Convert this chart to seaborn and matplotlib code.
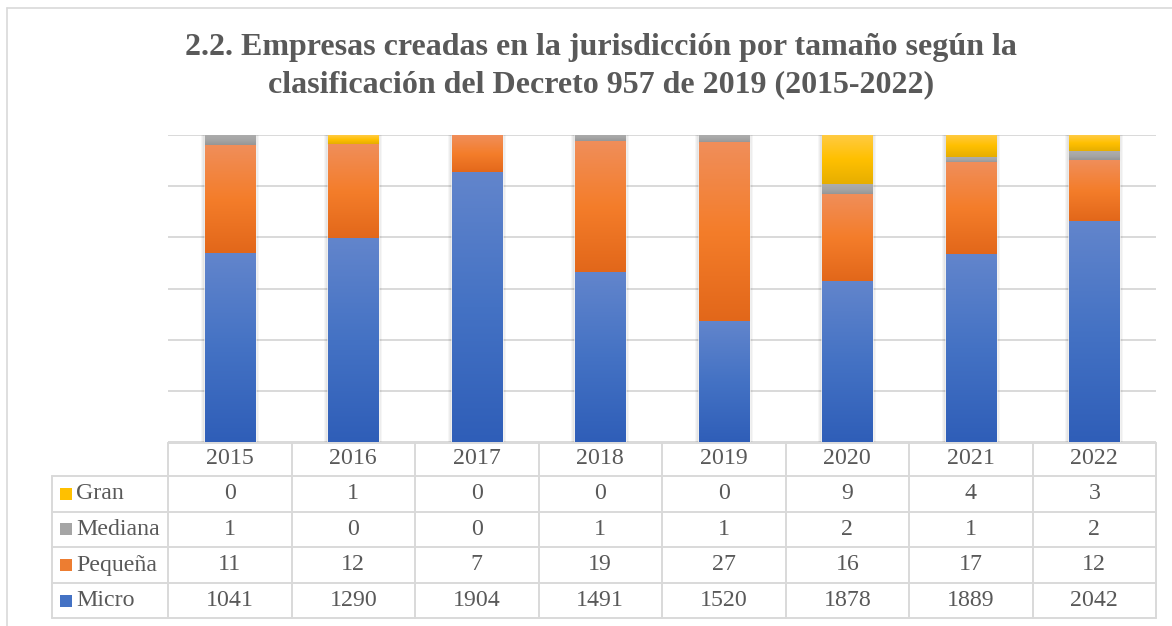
import numpy as np
import pandas as pd
import seaborn as sns
import matplotlib.pyplot as plt
from matplotlib.patches import Rectangle
from matplotlib.lines import Line2D
from matplotlib.colors import LinearSegmentedColormap

years = ["2015", "2016", "2017", "2018", "2019", "2020", "2021", "2022"]

# counts shown in the data table
gran = [0, 1, 0, 0, 0, 9, 4, 3]
mediana = [1, 0, 0, 1, 1, 2, 1, 2]
pequena = [11, 12, 7, 19, 27, 16, 17, 12]
micro = [1041, 1290, 1904, 1491, 1520, 1878, 1889, 2042]

# share of each bar as drawn in the chart
micro_share = [0.615, 0.662, 0.877, 0.553, 0.393, 0.524, 0.611, 0.719]
pequena_share = [0.349, 0.308, 0.123, 0.424, 0.582, 0.281, 0.298, 0.197]
mediana_share = [0.036, 0.0, 0.0, 0.025, 0.025, 0.034, 0.019, 0.032]
gran_share = [0.0, 0.029, 0.0, 0.0, 0.0, 0.161, 0.072, 0.052]

title_lines = ["2.2. Empresas creadas en la jurisdicción por tamaño según la",
               "clasificación del Decreto 957 de 2019 (2015-2022)"]

sns.set_theme(style="white")
plt.rcParams["font.family"] = ["Liberation Serif", "DejaVu Serif"]

W, H = 1172, 626
fig = plt.figure(figsize=(W / 100, H / 100), dpi=100)
text_col = "#595959"
grid_col = "#D9D9D9"

df = pd.DataFrame({"year": years})
df["c1"] = micro_share
df["c2"] = df["c1"] + np.array(pequena_share)
df["c3"] = df["c2"] + np.array(mediana_share)
df["c4"] = df["c3"] + np.array(gran_share)
df["c0"] = 0.0

# main bar axes (pixel layout)
x_left, x_right = 168, 1156
y_top, y_bot = 135, 442
ax = fig.add_axes([x_left / W, 1 - y_bot / H, (x_right - x_left) / W, (y_bot - y_top) / H])
layers = [
    ("c3", "c4", "#FFC000", ["#FFCB45", "#FFC000", "#E6AE00"]),
    ("c2", "c3", "#A5A5A5", ["#ADADAD", "#A5A5A5", "#939393"]),
    ("c1", "c2", "#ED7D31", ["#F08E5A", "#F47D2A", "#E2671A"]),
    ("c0", "c1", "#4472C4", ["#6285CC", "#4472C4", "#2F5EB8"]),
]
for lo, hi, col, _ in layers:
    sns.barplot(data=df, x="year", y=hi, color=col, saturation=1,
                width=0.405, ax=ax, zorder=2)

# soft shadow around each bar
px_x = 8 / (x_right - x_left)
px_y = 1 / (y_bot - y_top)
for patch in ax.containers[0]:
    x0, w, h = patch.get_x(), patch.get_width(), patch.get_height()
    for d in [1, 2, 3, 4]:
        ax.add_patch(Rectangle((x0 - d * px_x, 0), w + 2 * d * px_x, h + d * px_y,
                               color="#000000", alpha=0.035, lw=0, zorder=1.5))

grad = np.linspace(0, 1, 256).reshape(-1, 1)
for k, (lo, hi, col, stops) in enumerate(layers):
    cmap = LinearSegmentedColormap.from_list("g%d" % k, stops)
    for i, patch in enumerate(ax.containers[k]):
        y0, y1 = df[lo][i], df[hi][i]
        if y1 - y0 <= 0:
            continue
        x0 = patch.get_x()
        ax.imshow(grad, extent=(x0, x0 + patch.get_width(), y0, y1),
                  cmap=cmap, aspect="auto", zorder=3, interpolation="bilinear")

ax.set_xlim(-0.5, 7.5)
ax.set_ylim(0, 1)
ax.set_yticks(np.linspace(0, 1, 7))
ax.set_yticklabels([])
ax.set_xticks([])
ax.set_xlabel("")
ax.set_ylabel("")
ax.grid(axis="y", color=grid_col, lw=1.4)
ax.set_axisbelow(True)
for s in ax.spines.values():
    s.set_visible(False)

# data table
colw = (x_right - x_left) / 8
t_left = 52
left = -0.5 - (x_left - t_left) / colw
tx = fig.add_axes([t_left / W, 1 - 618 / H, (x_right - t_left) / W, (618 - 443) / H])
tx.set_xlim(left, 7.5)
tx.set_ylim(618, 443)
tx.axis("off")

row_lines = [476, 511.5, 547, 583, 618]
tx.plot([-0.5, 7.5], [443, 443], color=grid_col, lw=1.4, clip_on=False)
for y in row_lines:
    tx.plot([left, 7.5], [y, y], color=grid_col, lw=1.4, clip_on=False)
for k in range(9):
    tx.plot([-0.5 + k] * 2, [443, 618], color=grid_col, lw=1.4, clip_on=False)
tx.plot([left, left], [476, 618], color=grid_col, lw=1.4, clip_on=False)

fs = 17.2
for i, yr in enumerate(years):
    tx.text(i, 459, yr, ha="center", va="center", fontsize=fs, color=text_col)

rows = [("Gran", gran, "#FFC000"), ("Mediana", mediana, "#A5A5A5"),
        ("Pequeña", pequena, "#ED7D31"), ("Micro", micro, "#4472C4")]
for r, (name, vals, col) in enumerate(rows):
    yc = (row_lines[r] + row_lines[r + 1]) / 2
    tx.add_patch(Rectangle((left + 8 / colw, yc - 6), 12.5 / colw, 12,
                           color=col, clip_on=False, lw=0))
    tx.text(left + 24 / colw, yc, name, ha="left", va="center",
            fontsize=fs, color=text_col)
    for i, v in enumerate(vals):
        tx.text(i, yc, str(v), ha="center", va="center",
                fontsize=fs, color=text_col)

# chart border
fig.add_artist(Line2D([7 / W, 7 / W], [0, 1 - 8 / H], color=grid_col, lw=1.2))
fig.add_artist(Line2D([7 / W, 1], [1 - 8 / H, 1 - 8 / H], color=grid_col, lw=1.2))

for line, yc in zip(title_lines, [48, 85]):
    fig.text(601 / W, 1 - yc / H, line, ha="center", va="center",
             fontsize=23, fontweight="bold", color=text_col)

fig.savefig("out.png", dpi=100)
